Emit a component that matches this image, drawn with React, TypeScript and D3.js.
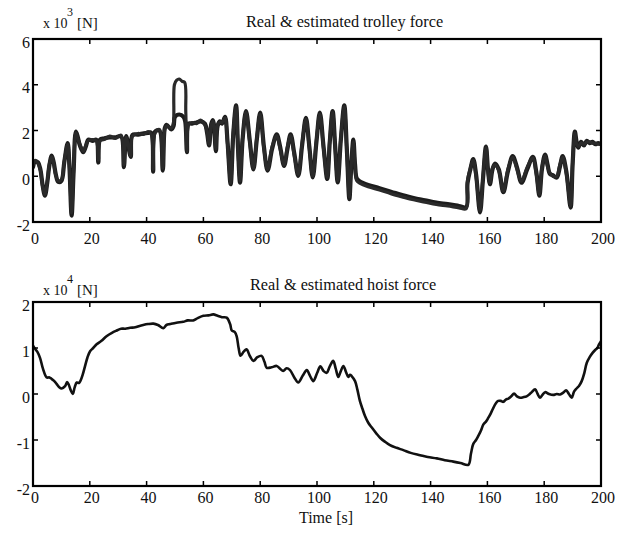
import React from 'react';
import * as d3 from 'd3';

const timeTicks = [0, 20, 40, 60, 80, 100, 120, 140, 160, 180, 200];
const trolleyTicks = [-2, 0, 2, 4, 6];
const hoistTicks = [-2, -1, 0, 1, 2];

const trolleyTitle = 'Real & estimated trolley force';
const hoistTitle = 'Real & estimated hoist force';
const xLabel = 'Time [s]';

// [time s, force x10^3 N]
const trolleyReal: [number, number][] = [
  [0, 0.4], [0.8, 0.65], [1.8, 0.6], [2.6, 0.3], [3.4, -0.4], [4.2, -0.85], [5.0, -0.3], [5.8, 0.5], [6.6, 0.9],
  [7.3, 0.6], [8.0, 0.1], [8.9, -0.25], [10, -0.2], [11, 0.6], [12.2, 1.45], [12.8, 0.5], [13.6, -1.72], [14.3, 0.2],
  [15.1, 1.95], [15.8, 1.7], [16.5, 1.35], [17.7, 1.05], [18.6, 1.3], [19.5, 1.6], [21, 1.55], [22.3, 1.6], [23, 0.6],
  [23.6, 1.6], [25, 1.65], [27, 1.7], [29, 1.7], [31, 1.75], [32, 0.4], [32.8, 1.75], [34.4, 0.85], [35, 1.8],
  [37, 1.82], [39, 1.88], [40.5, 1.9], [41.6, 1.9], [42.3, 0.2], [43, 1.95], [44.5, 2.0], [45.7, 0.25], [46.4, 2.1],
  [47, 2.25], [48.7, 2.05], [49.5, 2.2], [50, 2.6], [51.5, 2.7], [53, 2.6], [53.6, 2.4], [54.2, 1.05], [54.8, 2.3],
  [56, 2.3], [57.6, 2.35], [59, 2.4], [60.5, 2.3], [61.3, 1.9], [62, 1.35], [62.8, 2.3], [63.4, 2.45], [64.4, 1.1],
  [65, 2.2], [65.8, 2.4], [66.6, 2.3], [67.6, 2.6], [68.5, 1.5], [69.6, -0.35], [70.5, 1.8], [71.5, 3.1], [72.2, 1.2],
  [72.9, -0.28], [73.8, 1.6], [75, 2.85], [76.3, 1.6], [77.6, 0.3], [78.8, 1.6], [80, 2.78], [81.3, 1.3], [82.6, 0.25],
  [84.2, 1.2], [85.8, 1.83], [87, 1.3], [88.4, 0.45], [89.6, 1.2], [90.7, 1.83], [92, 1.0], [93.4, 0.02], [94.8, 1.4],
  [96.1, 2.55], [97.3, 1.3], [98.5, -0.05], [99.8, 1.5], [101, 2.78], [102.3, 1.3], [103.6, -0.12], [104.5, 1.5],
  [105.5, 2.85], [106.4, 1.3], [107.3, -0.27], [108.4, 1.6], [109.6, 3.1], [110.5, 1.2], [111.4, -1.0], [112, 0.3],
  [112.8, 1.6], [113.4, 0.5], [114, -0.1], [115, -0.22], [118, -0.38], [122, -0.52], [126, -0.68], [130, -0.82],
  [134, -0.95], [138, -1.05], [142, -1.15], [146, -1.22], [150, -1.3], [152.5, -1.35], [153, -0.3], [154, 0.3],
  [155, 0.75], [156, 0.1], [157.4, -1.58], [158.4, -0.2], [159.5, 1.3], [160.2, 0.3], [160.9, -0.35], [161.8, 0.3],
  [162.7, 0.55], [164, 0.3], [165.6, -0.7], [167.2, 0.2], [168.9, 0.88], [170.4, 0.4], [172, -0.28], [174, 0.3],
  [176, 0.85], [177.2, 0.2], [178.3, -0.85], [179.2, 0.3], [180.3, 0.95], [181.2, 0.5], [182, 0.1], [183, 0.05],
  [184.4, -0.06], [185.5, 0.4], [186.5, 0.88], [187.8, 0.2], [189.3, -1.37], [190, 0.5], [190.8, 1.95], [191.4, 1.5],
  [192, 1.25], [193, 1.5], [194, 1.35], [195, 1.55], [196, 1.45], [197, 1.5], [198, 1.4], [199, 1.45], [200, 1.4],
];

const trolleyEstimated: [number, number][] = [
  [0, 0.5], [0.8, 0.7], [1.8, 0.55], [2.6, 0.25], [3.4, -0.45], [4.2, -0.8], [5.0, -0.25], [5.8, 0.55], [6.6, 0.85],
  [7.3, 0.55], [8.0, 0.05], [8.9, -0.2], [10, -0.15], [11, 0.65], [12.2, 1.4], [12.8, 0.45], [13.6, -1.6], [14.3, 0.3],
  [15.1, 1.9], [15.8, 1.65], [16.5, 1.4], [17.7, 1.1], [18.6, 1.35], [19.5, 1.55], [21, 1.6], [22.3, 1.55], [23, 0.7],
  [23.6, 1.55], [25, 1.6], [27, 1.75], [29, 1.65], [31, 1.8], [32, 0.5], [32.8, 1.7], [34.4, 0.9], [35, 1.75],
  [37, 1.87], [39, 1.83], [40.5, 1.95], [41.6, 1.85], [42.3, 0.3], [43, 1.9], [44.5, 2.05], [45.7, 0.35], [46.4, 2.05],
  [47, 2.2], [48.7, 2.1], [49.4, 2.3], [49.8, 4.0], [50.6, 4.2], [51.5, 4.25], [52.5, 4.15], [53.4, 4.1], [53.8, 2.8],
  [54.2, 1.1], [54.8, 2.25], [56, 2.35], [57.6, 2.3], [59, 2.45], [60.5, 2.25], [61.3, 1.95], [62, 1.4], [62.8, 2.25],
  [63.4, 2.4], [64.4, 1.2], [65, 2.25], [65.8, 2.35], [66.6, 2.35], [67.6, 2.55], [68.5, 1.4], [69.6, -0.3], [70.5, 1.9],
  [71.5, 3.05], [72.2, 1.1], [72.9, -0.2], [73.8, 1.7], [75, 2.8], [76.3, 1.5], [77.6, 0.35], [78.8, 1.7], [80, 2.72],
  [81.3, 1.2], [82.6, 0.3], [84.2, 1.3], [85.8, 1.78], [87, 1.2], [88.4, 0.5], [89.6, 1.3], [90.7, 1.78], [92, 0.9],
  [93.4, 0.08], [94.8, 1.5], [96.1, 2.5], [97.3, 1.2], [98.5, 0.0], [99.8, 1.6], [101, 2.72], [102.3, 1.2], [103.6, -0.05],
  [104.5, 1.6], [105.5, 2.8], [106.4, 1.2], [107.3, -0.2], [108.4, 1.7], [109.6, 3.05], [110.5, 1.1], [111.4, -0.9],
  [112, 0.4], [112.8, 1.5], [113.4, 0.4], [114, -0.2], [115, -0.3], [118, -0.46], [122, -0.6], [126, -0.76],
  [130, -0.9], [134, -1.03], [138, -1.13], [142, -1.23], [146, -1.3], [150, -1.38], [152.5, -1.42], [153, -0.2],
  [154, 0.35], [155, 0.7], [156, 0.0], [157.4, -1.5], [158.4, -0.1], [159.5, 1.25], [160.2, 0.2], [160.9, -0.3],
  [161.8, 0.35], [162.7, 0.5], [164, 0.25], [165.6, -0.65], [167.2, 0.3], [168.9, 0.83], [170.4, 0.3], [172, -0.22],
  [174, 0.4], [176, 0.8], [177.2, 0.1], [178.3, -0.78], [179.2, 0.4], [180.3, 0.9], [181.2, 0.4], [182, 0.15],
  [183, 0.0], [184.4, 0.0], [185.5, 0.5], [186.5, 0.83], [187.8, 0.1], [189.3, -1.3], [190, 0.6], [190.8, 1.9],
  [191.4, 1.4], [192, 1.3], [193, 1.45], [194, 1.4], [195, 1.5], [196, 1.5], [197, 1.45], [198, 1.45], [199, 1.4], [200, 1.45],
];

// [time s, force x10^4 N]
const hoistReal: [number, number][] = [
  [0, 1.05], [0.5, 1.0], [1.5, 0.92], [2.5, 0.78], [3.5, 0.55], [4.8, 0.36], [5.8, 0.36], [6.5, 0.33], [7.5, 0.28],
  [8.3, 0.22], [9.2, 0.15], [10.1, 0.12], [11.3, 0.17], [12.0, 0.26], [12.6, 0.2], [13.3, 0.08], [14, 0.0], [14.7, 0.15],
  [15.4, 0.25], [16.2, 0.24], [16.8, 0.3], [17.5, 0.42], [18.3, 0.6], [19.2, 0.8], [20.1, 0.93], [21.2, 1.0], [22.4, 1.08],
  [24, 1.15], [26, 1.26], [27.8, 1.33], [29.5, 1.38], [31, 1.42], [32.5, 1.42], [34.2, 1.44], [36, 1.45], [37.5, 1.48],
  [38.8, 1.5], [40.5, 1.52], [42.4, 1.53], [44, 1.5], [45.9, 1.43], [47, 1.5], [48.3, 1.52], [50.5, 1.55], [52.9, 1.57],
  [54.5, 1.6], [56.4, 1.6], [58, 1.65], [60, 1.7], [61.8, 1.71], [63.5, 1.73], [65, 1.7], [66.5, 1.67], [68.2, 1.66],
  [69.4, 1.52], [70, 1.38], [71, 1.35], [71.7, 1.26], [72.4, 1.0], [73.1, 0.83], [74.2, 0.92], [75.2, 0.97], [76.4, 0.82],
  [77.6, 0.72], [79, 0.8], [80.5, 0.83], [81.5, 0.7], [82.3, 0.57], [84, 0.58], [85.8, 0.61], [87, 0.55], [88.1, 0.5],
  [89.3, 0.56], [90.5, 0.52], [92, 0.36], [93.4, 0.25], [95, 0.4], [96.4, 0.52], [97.5, 0.4], [98.7, 0.28], [100, 0.45],
  [101.2, 0.6], [102.3, 0.5], [103.4, 0.46], [104.5, 0.6], [105.7, 0.72], [106.6, 0.55], [107.5, 0.37], [108.4, 0.5],
  [109.3, 0.61], [110.2, 0.48], [111, 0.37], [111.6, 0.42], [112.2, 0.39], [113.4, 0.28], [114.2, 0.1], [115.1, -0.15],
  [116, -0.32], [116.9, -0.48], [118, -0.62], [119.3, -0.73], [120.8, -0.85], [122.2, -0.95], [124, -1.04],
  [125.7, -1.11], [128, -1.17], [130.4, -1.22], [133, -1.28], [136.3, -1.33], [139, -1.37], [142.2, -1.4], [145, -1.44],
  [148, -1.47], [150.5, -1.5], [153.3, -1.54], [154.2, -1.3], [155, -1.09], [156, -1.0], [156.8, -0.91], [157.7, -0.8],
  [158.6, -0.66], [159.5, -0.6], [160.3, -0.52], [161.2, -0.42], [162.1, -0.3], [163, -0.2], [163.8, -0.15],
  [164.7, -0.15], [165.6, -0.17], [166.5, -0.12], [167.4, -0.1], [168.4, -0.05], [169.4, 0.01], [170.4, -0.05],
  [171.5, -0.08], [172.6, -0.07], [173.8, -0.05], [175.3, 0.02], [176.8, 0.1], [177.7, 0.0], [178.5, -0.08],
  [179.4, -0.02], [180.3, 0.04], [181.7, 0.0], [183.2, -0.02], [184.4, 0.0], [185.6, -0.01], [186.7, 0.03],
  [187.7, 0.08], [188.7, 0.0], [189.7, -0.08], [190.5, 0.05], [191.4, 0.12], [192.3, 0.18], [193.2, 0.28],
  [194.1, 0.45], [195, 0.68], [196, 0.8], [197.1, 0.9], [198, 0.96], [198.7, 1.0], [199.3, 1.08], [200, 1.15],
];

const FONT = '"Liberation Serif", "Times New Roman", serif';

type Series = { data: [number, number][]; stroke: string; width: number };

function Panel(props: {
  id: string;
  top: number;
  bottom: number;
  domain: [number, number];
  yTicks: number[];
  series: Series[];
  title: string;
  titleX: number;
  titleY: number;
  exponent: string;
  unitY: number;
  xLabelY: number;
}) {
  const left = 33;
  const right = 601;
  const x = d3.scaleLinear().domain([0, 200]).range([left, right]);
  const y = d3.scaleLinear().domain(props.domain).range([props.bottom, props.top]);
  const line = d3
    .line<[number, number]>()
    .x((d) => x(d[0]))
    .y((d) => y(d[1]))
    .curve(d3.curveCatmullRom.alpha(0.5));
  const tl = 5;
  return (
    <g>
      <defs>
        <clipPath id={props.id}>
          <rect x={left} y={props.top} width={right - left} height={props.bottom - props.top} />
        </clipPath>
      </defs>
      <g clipPath={`url(#${props.id})`}>
        {props.series.map((s, i) => (
          <path
            key={i}
            d={line(s.data) || ''}
            fill="none"
            stroke={s.stroke}
            strokeWidth={s.width}
            strokeLinejoin="round"
            strokeLinecap="round"
          />
        ))}
      </g>
      {timeTicks.map((t) => (
        <g key={'x' + t}>
          <line x1={x(t)} x2={x(t)} y1={props.bottom} y2={props.bottom - tl} stroke="#000" strokeWidth={1.5} />
          <line x1={x(t)} x2={x(t)} y1={props.top} y2={props.top + tl} stroke="#000" strokeWidth={1.5} />
          <text x={x(t) + 2} y={props.xLabelY} textAnchor="middle" fontFamily={FONT} fontSize={16} fill="#111">
            {t}
          </text>
        </g>
      ))}
      {props.yTicks.map((v) => (
        <g key={'y' + v}>
          <line x1={left} x2={left + tl} y1={y(v)} y2={y(v)} stroke="#000" strokeWidth={1.5} />
          <line x1={right} x2={right - tl} y1={y(v)} y2={y(v)} stroke="#000" strokeWidth={1.5} />
          <text x={30} y={y(v) + 3} dy="0.35em" textAnchor="end" fontFamily={FONT} fontSize={16} fill="#111">
            {v}
          </text>
        </g>
      ))}
      <rect
        x={left}
        y={props.top}
        width={right - left}
        height={props.bottom - props.top}
        fill="none"
        stroke="#000"
        strokeWidth={2.2}
      />
      <text x={props.titleX} y={props.titleY} fontFamily={FONT} fontSize={16.3} fill="#111">
        {props.title}
      </text>
      <text x={43} y={props.unitY} fontFamily={FONT} fontSize={14} fill="#111">
        x 10
      </text>
      <text x={67} y={props.unitY - 12} fontFamily={FONT} fontSize={12} fill="#111">
        {props.exponent}
      </text>
      <text x={77} y={props.unitY} fontFamily={FONT} fontSize={15} fill="#111">
        [N]
      </text>
    </g>
  );
}

export default function App() {
  return (
    <svg
      width={642}
      height={539}
      viewBox="0 0 642 539"
      style={{ position: 'absolute', left: 0, top: 0, background: '#fff' }}
    >
      <rect x={0} y={0} width={642} height={539} fill="#fff" />
      <Panel
        id="clipTrolley"
        top={39}
        bottom={222}
        domain={[-2, 6]}
        yTicks={trolleyTicks}
        series={[
          { data: trolleyReal, stroke: '#1c1c1c', width: 4.2 },
          { data: trolleyEstimated, stroke: '#2a2a2a', width: 3.2 },
        ]}
        title={trolleyTitle}
        titleX={246}
        titleY={27}
        exponent="3"
        unitY={28}
        xLabelY={244}
      />
      <Panel
        id="clipHoist"
        top={302}
        bottom={486}
        domain={[-2, 2]}
        yTicks={hoistTicks}
        series={[{ data: hoistReal, stroke: '#111', width: 2.6 }]}
        title={hoistTitle}
        titleX={250}
        titleY={290}
        exponent="4"
        unitY={295}
        xLabelY={503}
      />
      <text x={326} y={523} textAnchor="middle" fontFamily={FONT} fontSize={16} fill="#111">
        {xLabel}
      </text>
    </svg>
  );
}
